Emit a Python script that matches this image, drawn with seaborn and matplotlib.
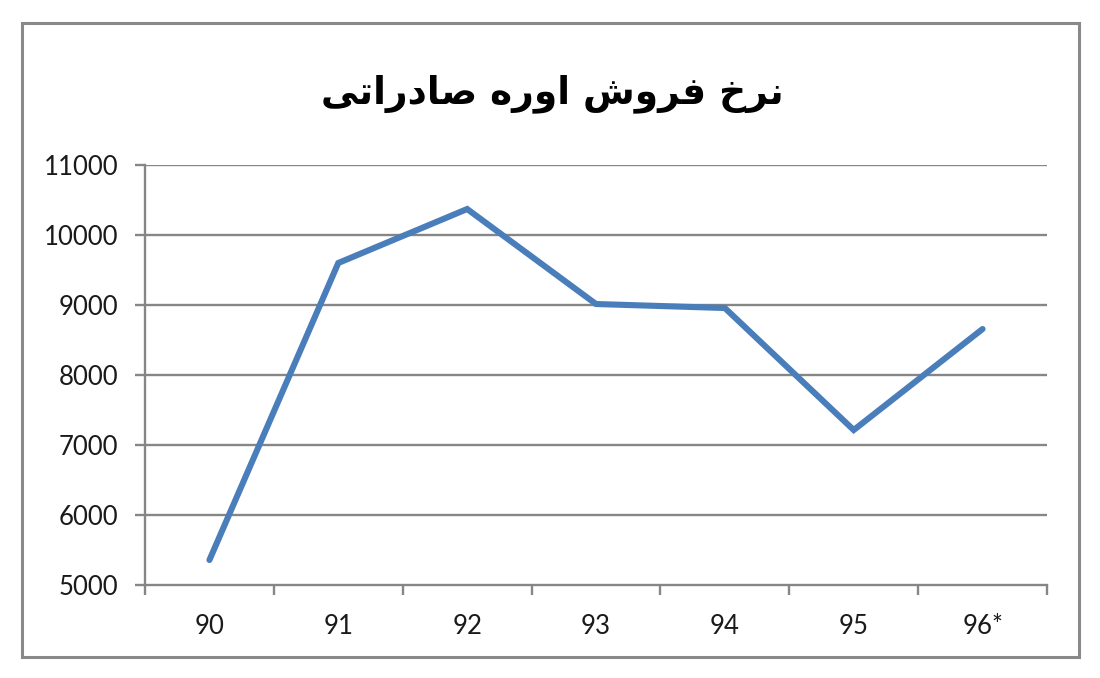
import matplotlib
matplotlib.use("Agg")
import matplotlib.pyplot as plt
import seaborn as sns
import pandas as pd
from matplotlib.patches import Rectangle
from matplotlib.ticker import FixedLocator

years = ["90", "91", "92", "93", "94", "95", "96*"]
prices = [5357, 9600, 10371, 9014, 8957, 7214, 8657]
yticks = [5000, 6000, 7000, 8000, 9000, 10000, 11000]
# Persian title "نرخ فروش اوره صادراتی" in shaped presentation forms, visual order
title_text = "\ufef0\ufe97\ufe8d\ufead\ufea9\ufe8e\ufebb \ufee9\ufead\ufeed\ufe8d \ufeb5\ufeed\ufeae\ufed3 \ufea5\ufeae\ufee7"

sns.set_theme(style="white")
plt.rcParams["font.family"] = ["Lato", "DejaVu Sans"]

df = pd.DataFrame({"year": years, "price": prices})

fig = plt.figure(figsize=(11, 6.78), dpi=100)
ax = fig.add_axes([145/1100, 93/678, 902/1100, 420/678])

grid_col = "#868686"
sns.lineplot(data=df, x="year", y="price", ax=ax, sort=False,
             color="#4A7EBB", linewidth=4.4, solid_capstyle="round",
             solid_joinstyle="miter")

ax.set_xlim(-0.5, 6.5)
ax.set_ylim(5000, 11000)
ax.set_yticks(yticks)
ax.set_yticklabels([str(v) for v in yticks])
ax.set_xticks(range(len(years)))
ax.set_xticklabels(years)
ax.xaxis.set_minor_locator(FixedLocator([i - 0.5 for i in range(len(years) + 1)]))
ax.set_xlabel("")
ax.set_ylabel("")

for y in yticks[1:]:
    ax.axhline(y, color=grid_col, linewidth=1.7, zorder=0)

for s in ["top", "right"]:
    ax.spines[s].set_visible(False)
for s in ["left", "bottom"]:
    ax.spines[s].set_color(grid_col)
    ax.spines[s].set_linewidth(1.7)

ax.tick_params(axis="y", which="major", direction="out", length=7, width=1.7,
               color=grid_col, labelsize=18.5, labelcolor="#1a1a1a", pad=12, left=True)
ax.tick_params(axis="x", which="major", length=0, labelsize=18.5,
               labelcolor="#1a1a1a", pad=21)
ax.tick_params(axis="x", which="minor", direction="out", length=7, width=1.7,
               color=grid_col, bottom=True)

fig.text(552/1100, 1 - 94/678, title_text, ha="center", va="center",
         fontsize=27, fontweight="bold", family=["DejaVu Sans"], color="black")

fig.patches.append(Rectangle((22/1100, 1 - 657/678), (1079 - 22)/1100, (657 - 23)/678,
                             transform=fig.transFigure, fill=False,
                             edgecolor="#898989", linewidth=2.2))

fig.savefig("out.png", dpi=100)
